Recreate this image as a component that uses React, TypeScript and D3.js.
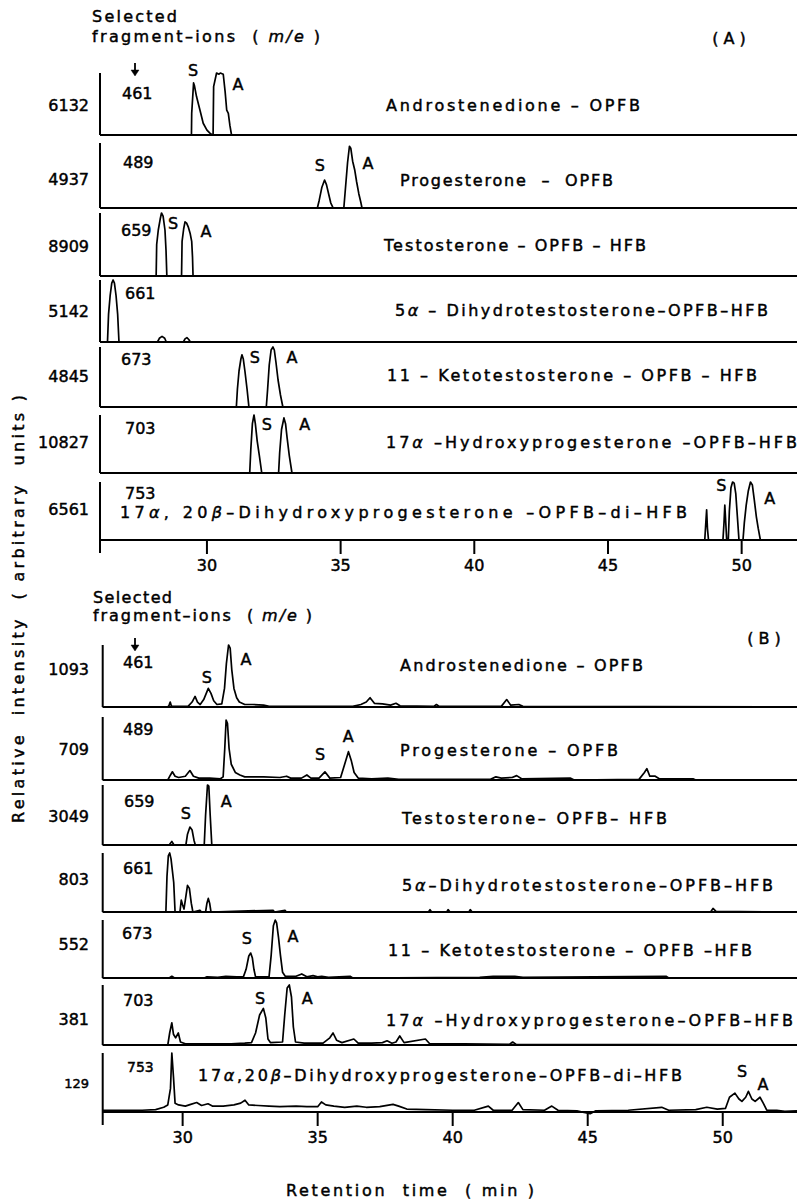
import React from 'react';
import * as d3 from 'd3';

// ---------------- DATA ----------------
const tickValues = [30, 35, 40, 45, 50];

const ionsA = ['461', '489', '659', '661', '673', '703', '753'];
const fullScaleA = ['6132', '4937', '8909', '5142', '4845', '10827', '6561'];
const compoundsA = [
  'Androstenedione – OPFB',
  'Progesterone  –  OPFB',
  'Testosterone – OPFB – HFB',
  '5α – Dihydrotestosterone–OPFB–HFB',
  '11 – Ketotestosterone – OPFB – HFB',
  '17α –Hydroxyprogesterone –OPFB–HFB',
  '17α, 20β–Dihydroxyprogesterone –OPFB–di–HFB',
];

const ionsB = ['461', '489', '659', '661', '673', '703', '753'];
const fullScaleB = ['1093', '709', '3049', '803', '552', '381', '129'];
const compoundsB = [
  'Androstenedione – OPFB',
  'Progesterone – OPFB',
  'Testosterone– OPFB– HFB',
  '5α–Dihydrotestosterone–OPFB–HFB',
  '11 – Ketotestosterone – OPFB –HFB',
  '17α –Hydroxyprogesterone–OPFB–HFB',
  '17α,20β–Dihydroxyprogesterone–OPFB–di–HFB',
];

// traces: [retention time (min), relative intensity (% of full scale)]
const traceA1 = [[26.0,0],[29.42,0],[29.43,35],[29.5,84],[29.53,80],[29.61,62],[29.74,40],[29.86,19],[30.0,8],[30.11,3],[30.2,0],[30.23,0],[30.25,78],[30.36,100],[30.45,98],[30.5,100],[30.61,98],[30.68,70],[30.74,40],[30.8,35],[30.86,15],[30.92,0],[52.07,0]];
const traceA2 = [[26.0,0],[34.13,0],[34.2,12],[34.3,32],[34.4,43],[34.47,36],[34.55,22],[34.63,8],[34.72,0],[35.12,0],[35.18,30],[35.26,70],[35.33,95],[35.38,92],[35.45,72],[35.53,58],[35.6,40],[35.68,22],[35.76,8],[35.8,0],[52.07,0]];
const traceA3 = [[26.0,0],[28.1,0],[28.12,50],[28.18,73],[28.25,90],[28.3,100],[28.36,95],[28.43,73],[28.47,40],[28.5,0],[29.05,0],[29.07,55],[29.13,75],[29.18,86],[29.24,84],[29.3,78],[29.37,68],[29.43,55],[29.46,30],[29.48,0],[52.07,0]];
const traceA4 = [[26.0,0],[26.28,0],[26.32,45],[26.38,75],[26.44,95],[26.49,100],[26.54,95],[26.6,75],[26.66,45],[26.71,0],[28.15,0],[28.22,6],[28.32,9],[28.42,6],[28.48,0],[29.12,0],[29.18,5],[29.25,7],[29.32,4],[29.38,0],[52.07,0]];
const traceA5 = [[26.0,0],[31.1,0],[31.14,30],[31.2,60],[31.27,80],[31.31,87],[31.36,80],[31.42,60],[31.5,30],[31.57,0],[32.22,0],[32.27,30],[32.33,70],[32.4,95],[32.47,100],[32.52,95],[32.58,75],[32.66,45],[32.75,20],[32.84,0],[52.07,0]];
const traceA6 = [[26.0,0],[31.6,0],[31.64,40],[31.7,85],[31.76,100],[31.81,85],[31.88,55],[31.96,30],[32.05,0],[32.68,0],[32.72,35],[32.79,75],[32.88,95],[32.94,85],[33.0,60],[33.08,30],[33.18,0],[52.07,0]];
const traceA7 = [[26.0,0],[48.62,0],[48.66,30],[48.69,52],[48.72,20],[48.76,0],[49.3,0],[49.34,30],[49.37,60],[49.4,35],[49.44,0],[49.5,0],[49.54,50],[49.6,90],[49.66,100],[49.72,98],[49.78,80],[49.84,40],[49.9,0],[50.05,0],[50.1,30],[50.17,60],[50.25,85],[50.33,100],[50.4,95],[50.47,70],[50.55,40],[50.62,20],[50.7,0],[52.07,0]];

const traceB1 = [[27.04,0],[29.45,0],[29.5,3],[29.54,8],[29.58,2],[29.62,1],[30.2,1],[30.35,8],[30.46,17],[30.55,8],[30.65,4],[30.78,12],[30.95,30],[31.05,22],[31.15,10],[31.27,4],[31.45,5],[31.55,30],[31.62,70],[31.7,100],[31.76,95],[31.82,60],[31.9,30],[32.0,15],[32.1,8],[32.3,4],[32.6,4],[33.0,3],[33.2,1],[36.3,1],[36.6,4],[36.8,8],[36.94,15],[37.1,6],[37.4,5],[37.7,3],[37.9,6],[38.05,2],[39.3,1],[39.4,4],[39.5,1],[41.8,1],[42.0,12],[42.15,3],[42.45,4],[42.6,1],[52.75,0]];
const traceB2 = [[27.04,0],[29.45,0],[29.55,8],[29.62,13],[29.72,6],[29.85,4],[30.1,6],[30.27,15],[30.4,6],[30.6,3],[31.0,3],[31.4,2],[31.5,5],[31.56,50],[31.61,95],[31.66,90],[31.72,50],[31.8,25],[31.95,12],[32.12,8],[32.3,5],[33.0,5],[33.6,4],[33.85,6],[34.0,3],[34.4,3],[34.6,8],[34.75,3],[35.05,3],[35.27,13],[35.45,3],[35.85,4],[36.0,25],[36.14,45],[36.25,30],[36.35,12],[36.5,3],[37.0,2],[37.6,3],[38.0,1],[41.4,1],[41.6,5],[41.8,3],[42.2,4],[42.37,7],[42.55,2],[44.35,3],[44.5,0],[46.9,1],[47.1,12],[47.19,18],[47.3,6],[47.5,6],[47.65,2],[48.9,2],[49.0,0],[52.75,0]];
const traceB3 = [[27.04,0],[29.5,0],[29.6,6],[29.68,0],[30.12,0],[30.18,18],[30.27,30],[30.35,25],[30.42,8],[30.47,0],[30.8,0],[30.85,50],[30.92,100],[30.97,98],[31.02,50],[31.08,0],[52.75,0]];
const traceB4 = [[27.04,0],[29.38,0],[29.42,60],[29.47,95],[29.52,100],[29.57,90],[29.62,70],[29.67,50],[29.72,0],[29.9,0],[29.95,20],[30.0,12],[30.05,5],[30.1,20],[30.18,45],[30.25,40],[30.32,15],[30.38,0],[30.64,3],[30.7,0],[30.85,0],[30.9,15],[30.95,23],[31.0,15],[31.05,0],[33.35,3],[33.4,0],[33.79,3],[33.84,0],[39.1,0],[39.16,4],[39.22,0],[39.78,0],[39.83,4],[39.9,0],[40.6,0],[40.65,4],[40.72,0],[49.55,0],[49.64,6],[49.75,1],[52.75,0]];
const traceB5 = [[27.04,0],[29.5,0],[29.6,3],[29.7,0],[30.8,0],[30.9,2],[31.3,1],[31.6,3],[32.0,2],[32.25,2],[32.35,15],[32.45,38],[32.52,43],[32.58,35],[32.64,15],[32.7,2],[33.2,2],[33.28,40],[33.36,90],[33.43,100],[33.48,95],[33.55,70],[33.62,40],[33.7,10],[33.8,3],[34.2,3],[34.41,7],[34.6,2],[34.83,4],[35.0,2],[35.15,3],[35.4,1],[36.2,3],[36.3,0],[41.0,1],[41.5,3],[42.3,3],[42.6,1],[47.9,3],[48.0,0],[52.75,0]];
const traceB6 = [[27.04,0],[29.45,0],[29.52,20],[29.6,37],[29.66,18],[29.74,12],[29.84,20],[29.92,5],[30.1,2],[31.0,2],[31.8,2],[32.3,3],[32.55,4],[32.7,20],[32.85,50],[32.99,61],[33.08,45],[33.16,10],[33.25,4],[33.7,5],[33.78,50],[33.87,95],[33.95,100],[34.03,80],[34.1,30],[34.18,5],[34.5,3],[35.2,3],[35.45,12],[35.57,20],[35.7,8],[35.9,4],[36.34,10],[36.5,3],[37.0,3],[37.4,4],[37.57,7],[37.75,3],[37.9,5],[38.04,15],[38.2,4],[38.99,10],[39.15,2],[40.42,2],[42.1,1],[42.22,5],[42.35,1],[52.75,0]];
const traceB7 = [[27.04,3],[28.5,3],[29.0,4],[29.3,8],[29.45,12],[29.55,40],[29.6,100],[29.66,60],[29.72,15],[29.85,12],[30.1,10],[30.3,13],[30.52,16],[30.7,11],[30.94,14],[31.1,10],[31.5,10],[31.9,12],[32.15,15],[32.31,20],[32.45,12],[32.8,11],[33.2,10],[33.6,9],[34.2,10],[34.6,9],[35.0,9],[35.14,17],[35.3,12],[35.6,10],[36.0,8],[36.45,10],[36.8,8],[37.3,9],[37.79,13],[38.0,10],[38.3,5],[39.0,4],[40.0,3],[40.8,3],[41.32,10],[41.5,3],[42.2,3],[42.43,16],[42.6,4],[43.4,3],[43.67,10],[43.9,3],[44.6,2],[45.09,-3],[45.3,2],[46.5,3],[47.74,8],[48.0,3],[49.0,4],[49.41,8],[49.8,5],[50.1,6],[50.25,25],[50.45,32],[50.6,22],[50.71,18],[50.85,25],[50.95,35],[51.08,22],[51.2,18],[51.38,25],[51.5,15],[51.63,3],[52.0,3],[52.3,1],[52.75,2]];

const tracesA = [traceA1, traceA2, traceA3, traceA4, traceA5, traceA6, traceA7];
const tracesB = [traceB1, traceB2, traceB3, traceB4, traceB5, traceB6, traceB7];

// peak labels: [text, time, relative intensity]
const peakLabelsA = [
  [['S', 29.48, 105], ['A', 31.16, 81]],
  [['S', 34.22, 65], ['A', 36.02, 68]],
  [['S', 28.73, 83], ['A', 29.96, 71]],
  [],
  [['S', 31.79, 82], ['A', 33.18, 82]],
  [['S', 32.24, 84], ['A', 33.66, 84]],
  [['S', 49.24, 95], ['A', 51.05, 72]],
];
const peakLabelsB = [
  [['S', 30.9, 47], ['A', 32.35, 77]],
  [['S', 35.09, 40], ['A', 36.13, 70]],
  [['S', 30.12, 53], ['A', 31.61, 72]],
  [],
  [['S', 32.38, 69], ['A', 34.09, 72]],
  [['S', 32.87, 77], ['A', 34.61, 77]],
  [['S', 50.72, 69], ['A', 51.49, 46]],
];

// ---------------- LAYOUT ----------------
const W = 801;
const H = 1204;
const FONT = "'DejaVu Sans', 'Liberation Sans', sans-serif";
const TEXT_STROKE = 0.45;

const panelA = {
  name: 'A',
  nameX: 729, nameY: 38,
  domain: [26.0, 52.07], left: 100, right: 797,
  bases: [135, 208, 276, 342, 407, 473, 540],
  tops: [73, 143, 213, 280, 347, 415, 482],
  numY: [105, 179, 246, 311, 376, 442, 509],
  ionY: [93, 162, 230, 293, 359, 428, 493],
  ionX: [122, 123, 121, 125, 121, 125, 125],
  labX: [[386, 640], [400, 613], [384, 646], [395, 768], [387, 757], [386, 797], [120, 687]],
  labY: [105, 180, 245, 310, 375, 442, 512],
  headY: [16, 36], headX: 92, headW: [85, 228],
  arrowY: [63, 76],
  ions: ionsA, scales: fullScaleA, compounds: compoundsA, traces: tracesA, peaks: peakLabelsA,
  smallLast: false,
};
const panelB = {
  name: 'B',
  nameX: 764, nameY: 638,
  domain: [27.04, 52.75], left: 102.7, right: 797,
  bases: [707, 780, 845, 912, 978, 1045, 1112],
  tops: [645, 717, 785, 853, 920, 985, 1053],
  numY: [669, 749, 816, 879, 944, 1019, 1083],
  ionY: [662, 729, 801, 868, 933, 1000, 1067],
  ionX: [123, 123, 124, 123, 122, 123, 127],
  labX: [[400, 643], [400, 618], [402, 667], [402, 773], [388, 752], [386, 793], [198, 682]],
  labY: [665, 750, 818, 885, 950, 1020, 1075],
  headY: [597, 615], headX: 93, headW: [79, 219],
  arrowY: [638, 651],
  ions: ionsB, scales: fullScaleB, compounds: compoundsB, traces: tracesB, peaks: peakLabelsB,
  smallLast: true,
};

function Rich({ s }: { s: string }) {
  const parts: { t: string; i: boolean }[] = [];
  let buf = '';
  for (const ch of s) {
    if (ch === 'α' || ch === 'β') {
      if (buf) parts.push({ t: buf, i: false });
      parts.push({ t: ch, i: true });
      buf = '';
    } else buf += ch;
  }
  if (buf) parts.push({ t: buf, i: false });
  return (
    <>
      {parts.map((p, k) =>
        p.i ? (
          <tspan key={k} fontStyle="italic">{p.t}</tspan>
        ) : (
          <tspan key={k}>{p.t}</tspan>
        )
      )}
    </>
  );
}

function Panel({ p }: { p: any }) {
  const x = d3.scaleLinear().domain(p.domain).range([p.left, p.right]);
  const n = p.bases.length;
  const last = n - 1;
  return (
    <g>
      {/* header */}
      <text x={p.headX} y={p.headY[0]} dy="0.35em" fontSize={16} textLength={p.headW[0]} lengthAdjust="spacing">Selected</text>
      <text x={p.headX} y={p.headY[1]} dy="0.35em" fontSize={16} textLength={p.headW[1]} lengthAdjust="spacing" style={{ whiteSpace: 'pre' }}>
        <tspan>{'fragment–ions  ( '}</tspan>
        <tspan fontStyle="italic">m/e</tspan>
        <tspan>{' )'}</tspan>
      </text>
      <line x1={135} x2={135} y1={p.arrowY[0]} y2={p.arrowY[1] - 5} stroke="#000" strokeWidth={1.8} />
      <path d={`M${131},${p.arrowY[1] - 6} L${139},${p.arrowY[1] - 6} L${135},${p.arrowY[1]} Z`} fill="#000" />
      <text x={p.nameX} y={p.nameY} dy="0.35em" fontSize={16} textAnchor="middle" style={{ whiteSpace: 'pre' }}>{'( ' + p.name + ' )'}</text>

      {p.bases.map((base: number, i: number) => {
        const top = p.tops[i];
        const y = d3.scaleLinear().domain([0, 100]).range([base, top]);
        const line = d3
          .line<number[]>()
          .x((d) => x(d[0]))
          .y((d) => y(d[1]));
        const isLast = i === last;
        const small = isLast && p.smallLast;
        return (
          <g key={i}>
            <line x1={p.left} x2={p.right} y1={base} y2={base} stroke="#000" strokeWidth={2.2} />
            <line x1={p.left} x2={p.left} y1={top} y2={isLast ? base + 13 : base} stroke="#000" strokeWidth={2} />
            <path d={line(p.traces[i] as number[][]) || ''} fill="none" stroke="#000" strokeWidth={1.7} strokeLinejoin="round" />
            <text x={89} y={p.numY[i]} dy="0.35em" fontSize={small ? 13 : 16} textAnchor="end">{p.scales[i]}</text>
            <text x={p.ionX[i]} y={p.ionY[i]} dy="0.35em" fontSize={small ? 14 : 16}>{p.ions[i]}</text>
            <text
              x={p.labX[i][0]}
              y={p.labY[i]}
              dy="0.35em"
              fontSize={16}
              textLength={p.labX[i][1] - p.labX[i][0]}
              lengthAdjust="spacing"
              style={{ whiteSpace: 'pre' }}
            >
              <Rich s={p.compounds[i]} />
            </text>
            {p.peaks[i].map((pk: any[], k: number) => (
              <text key={k} x={x(pk[1])} y={y(pk[2])} dy="0.35em" fontSize={16} textAnchor="middle">{pk[0]}</text>
            ))}
          </g>
        );
      })}
      {/* ticks on last row */}
      {tickValues.map((t) => (
        <g key={t}>
          <line x1={x(t)} x2={x(t)} y1={p.bases[last]} y2={p.bases[last] + 14} stroke="#000" strokeWidth={2} />
          <text x={x(t)} y={p.bases[last] + 25} dy="0.35em" fontSize={16} textAnchor="middle">{t}</text>
        </g>
      ))}
    </g>
  );
}

export default function App() {
  return (
    <svg
      width={W}
      height={H}
      viewBox={`0 0 ${W} ${H}`}
      style={{ position: 'absolute', left: 0, top: 0, background: '#fff' }}
      fontFamily={FONT}
      fill="#000"
      stroke="none"
    >
      <rect x={0} y={0} width={W} height={H} fill="#fff" />
      <g stroke="#000" strokeWidth={TEXT_STROKE} style={{ paintOrder: 'stroke' }}>
        <Panel p={panelA} />
        <Panel p={panelB} />
        <text
          transform={`translate(18,609) rotate(-90)`}
          dy="0.35em"
          textAnchor="middle"
          fontSize={16}
          textLength={428}
          lengthAdjust="spacing"
          style={{ whiteSpace: 'pre' }}
        >
          {'Relative  intensity  ( arbitrary  units )'}
        </text>
        <text x={410} y={1190} dy="0.35em" textAnchor="middle" fontSize={16} textLength={248} lengthAdjust="spacing" style={{ whiteSpace: 'pre' }}>
          {'Retention  time  ( min )'}
        </text>
      </g>
    </svg>
  );
}
